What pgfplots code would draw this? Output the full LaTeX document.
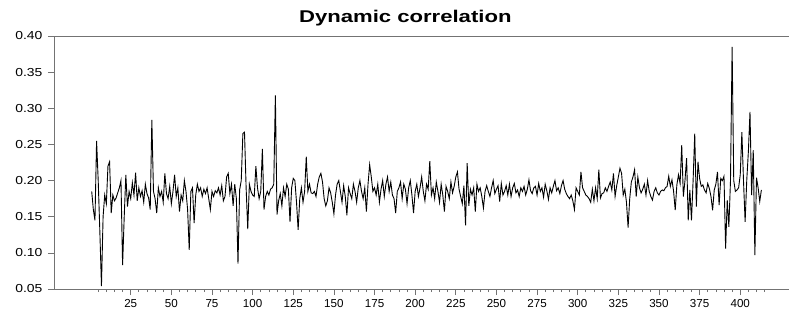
\documentclass[border=0pt]{standalone}
\usepackage{fontspec}
\setmainfont{Liberation Sans}
\usepackage{pgfplots}
\pgfplotsset{compat=1.18}
\begin{document}
\begin{tikzpicture}
\path[use as bounding box] (-54pt,-22pt) rectangle (735pt,289pt);
\begin{axis}[
  scale only axis,
  width=735pt, height=253pt,
  xmin=-22.2, xmax=430,
  ymin=0.05, ymax=0.40,
  axis lines=left,
  axis line style={-, draw=black!55, line width=0.8pt},
  tick style={draw=black!55, line width=0.7pt},
  tick align=outside,
  major tick length=6pt,
  minor tick length=3pt,
  xtick={25,50,...,400},
  minor xtick={5,10,...,415},
  ytick={0.05,0.10,...,0.40},
  /pgf/number format/assume math mode=true,
  tick label style={font=\fontsize{11.6}{14}\selectfont},
  yticklabel={\scalebox{1.2}[1]{\pgfmathprintnumber[fixed,fixed zerofill,precision=2]{\tick}}},
  yticklabel style={xshift=-2pt},
  xticklabel={\pgfmathprintnumber[fixed,precision=0]{\tick}},
  xticklabel style={yshift=-1pt},
  title={\scalebox{1.3}[1]{\fontsize{17}{20}\selectfont\bfseries Dynamic correlation}},
  title style={at={(rel axis cs:0.478,1)}, anchor=base, yshift=8pt, inner sep=0pt},
  clip=false,
]
\draw[black!55, line width=0.8pt] (rel axis cs:0,1) -- (rel axis cs:1,1);
\addplot[black, line width=0.9pt, mark=none] table[x expr=\coordindex+1, y index=0, header=false] {
0.185
0.160
0.145
0.255
0.200
0.130
0.054
0.150
0.180
0.168
0.220
0.226
0.155
0.180
0.172
0.176
0.183
0.190
0.200
0.083
0.150
0.208
0.164
0.185
0.175
0.197
0.180
0.211
0.172
0.190
0.178
0.186
0.170
0.195
0.182
0.176
0.160
0.284
0.185
0.175
0.155
0.190
0.178
0.185
0.170
0.210
0.182
0.175
0.192
0.168
0.185
0.208
0.178
0.190
0.157
0.180
0.172
0.200
0.185
0.160
0.104
0.185
0.190
0.141
0.180
0.195
0.185
0.190
0.178
0.188
0.182
0.190
0.175
0.160
0.185
0.178
0.186
0.183
0.190
0.180
0.193
0.172
0.178
0.205
0.210
0.182
0.195
0.165
0.195
0.175
0.085
0.187
0.200
0.265
0.267
0.190
0.133
0.195
0.185
0.180
0.178
0.220
0.190
0.175
0.185
0.244
0.160
0.178
0.185
0.180
0.188
0.190
0.195
0.318
0.153
0.172
0.182
0.165
0.190
0.178
0.195
0.188
0.143
0.190
0.203
0.200
0.170
0.132
0.175
0.190
0.170
0.185
0.233
0.185
0.195
0.183
0.182
0.185
0.178
0.195
0.205
0.210
0.198
0.175
0.165
0.172
0.190
0.183
0.170
0.154
0.180
0.195
0.200
0.185
0.170
0.193
0.178
0.152
0.190
0.182
0.175
0.195
0.185
0.170
0.190
0.200
0.185
0.175
0.190
0.157
0.195
0.222
0.205
0.185
0.190
0.180
0.195
0.170
0.188
0.200
0.178
0.195
0.205
0.185
0.198
0.180
0.175
0.155
0.185
0.190
0.198
0.175
0.195
0.188
0.168
0.190
0.200
0.180
0.155
0.185
0.195
0.178
0.190
0.205
0.185
0.172
0.195
0.188
0.227
0.180
0.190
0.175
0.198
0.185
0.170
0.195
0.180
0.157
0.192
0.185
0.175
0.198
0.183
0.192
0.205
0.212
0.188
0.178
0.168
0.193
0.138
0.224
0.165
0.188
0.180
0.190
0.157
0.195
0.185
0.190
0.178
0.162
0.185
0.193
0.185
0.178
0.190
0.200
0.182
0.188
0.193
0.171
0.196
0.180
0.185
0.193
0.180
0.195
0.178
0.190
0.196
0.183
0.187
0.178
0.190
0.185
0.192
0.180
0.188
0.201
0.186
0.182
0.190
0.192
0.180
0.196
0.185
0.190
0.177
0.195
0.186
0.174
0.190
0.183
0.192
0.200
0.186
0.190
0.182
0.193
0.200
0.188
0.182
0.178
0.175
0.180
0.172
0.160
0.190
0.185
0.180
0.212
0.190
0.185
0.180
0.178
0.175
0.170
0.188
0.172
0.190
0.175
0.215
0.176
0.182
0.183
0.190
0.185
0.192
0.198
0.187
0.210
0.178
0.193
0.205
0.217
0.210
0.180
0.188
0.170
0.135
0.175
0.198
0.205
0.215
0.178
0.205
0.190
0.183
0.188
0.195
0.180
0.200
0.185
0.178
0.173
0.185
0.190
0.183
0.180
0.185
0.187
0.186
0.190
0.192
0.206
0.192
0.201
0.185
0.159
0.194
0.208
0.196
0.249
0.178
0.200
0.231
0.145
0.187
0.145
0.200
0.265
0.164
0.226
0.203
0.192
0.194
0.187
0.183
0.196
0.189
0.178
0.159
0.187
0.195
0.212
0.166
0.203
0.200
0.206
0.106
0.173
0.136
0.200
0.385
0.200
0.185
0.187
0.190
0.208
0.267
0.200
0.143
0.200
0.240
0.295
0.180
0.242
0.097
0.204
0.190
0.171
0.187
};
\end{axis}
\end{tikzpicture}
\end{document}
